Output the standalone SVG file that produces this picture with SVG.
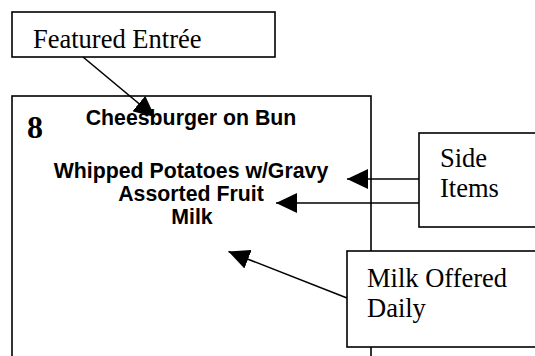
<svg xmlns="http://www.w3.org/2000/svg" width="535" height="356" viewBox="0 0 535 356">
<defs>
<marker id="ah" markerUnits="userSpaceOnUse" markerWidth="21" markerHeight="20" refX="21" refY="10" orient="auto" viewBox="0 0 21 20">
<path d="M0,0 L21,10 L0,20 z" fill="#000"/>
</marker>
<style>
.box{fill:#fff;stroke:#000;stroke-width:1.6}
.call{font-family:"Liberation Serif","Times New Roman",serif;font-size:26.5px;fill:#000}
.menu{font-family:"Liberation Sans",Arial,sans-serif;font-size:21.3px;font-weight:bold;fill:#000;text-anchor:middle}
.num{font-family:"Liberation Serif","Times New Roman",serif;font-size:32px;font-weight:bold;fill:#000}
.conn{stroke:#000;stroke-width:1.6;fill:none;marker-end:url(#ah)}
</style>
</defs>
<rect width="535" height="356" fill="#fff"/>
<g id="menu-box">
<rect class="box" x="12" y="96" width="359" height="270"/>
<text class="num" x="27" y="137.5">8</text>
<text class="menu" x="191" y="125">Cheesburger on Bun</text>
<text class="menu" x="191" y="178">Whipped Potatoes w/Gravy</text>
<text class="menu" x="191" y="201">Assorted Fruit</text>
<text class="menu" x="192" y="224">Milk</text>
</g>
<g id="featured-entree">
<rect class="box" x="12" y="12" width="263" height="45"/>
<text class="call" x="33" y="47.5">Featured Entrée</text>
</g>
<g id="side-items">
<rect class="box" x="419" y="133" width="130" height="94"/>
<text class="call" x="440" y="167">Side</text>
<text class="call" x="440" y="197">Items</text>
</g>
<g id="milk-offered">
<rect class="box" x="347" y="251" width="200" height="96"/>
<text class="call" x="367" y="287">Milk Offered</text>
<text class="call" x="367" y="317">Daily</text>
</g>
<g id="connectors">
<line class="conn" x1="83" y1="57" x2="155" y2="117"/>
<line class="conn" x1="419" y1="179" x2="347" y2="179"/>
<line class="conn" x1="419" y1="203" x2="276" y2="203"/>
<line class="conn" x1="347" y1="298" x2="228.5" y2="251.5"/>
</g>
</svg>
